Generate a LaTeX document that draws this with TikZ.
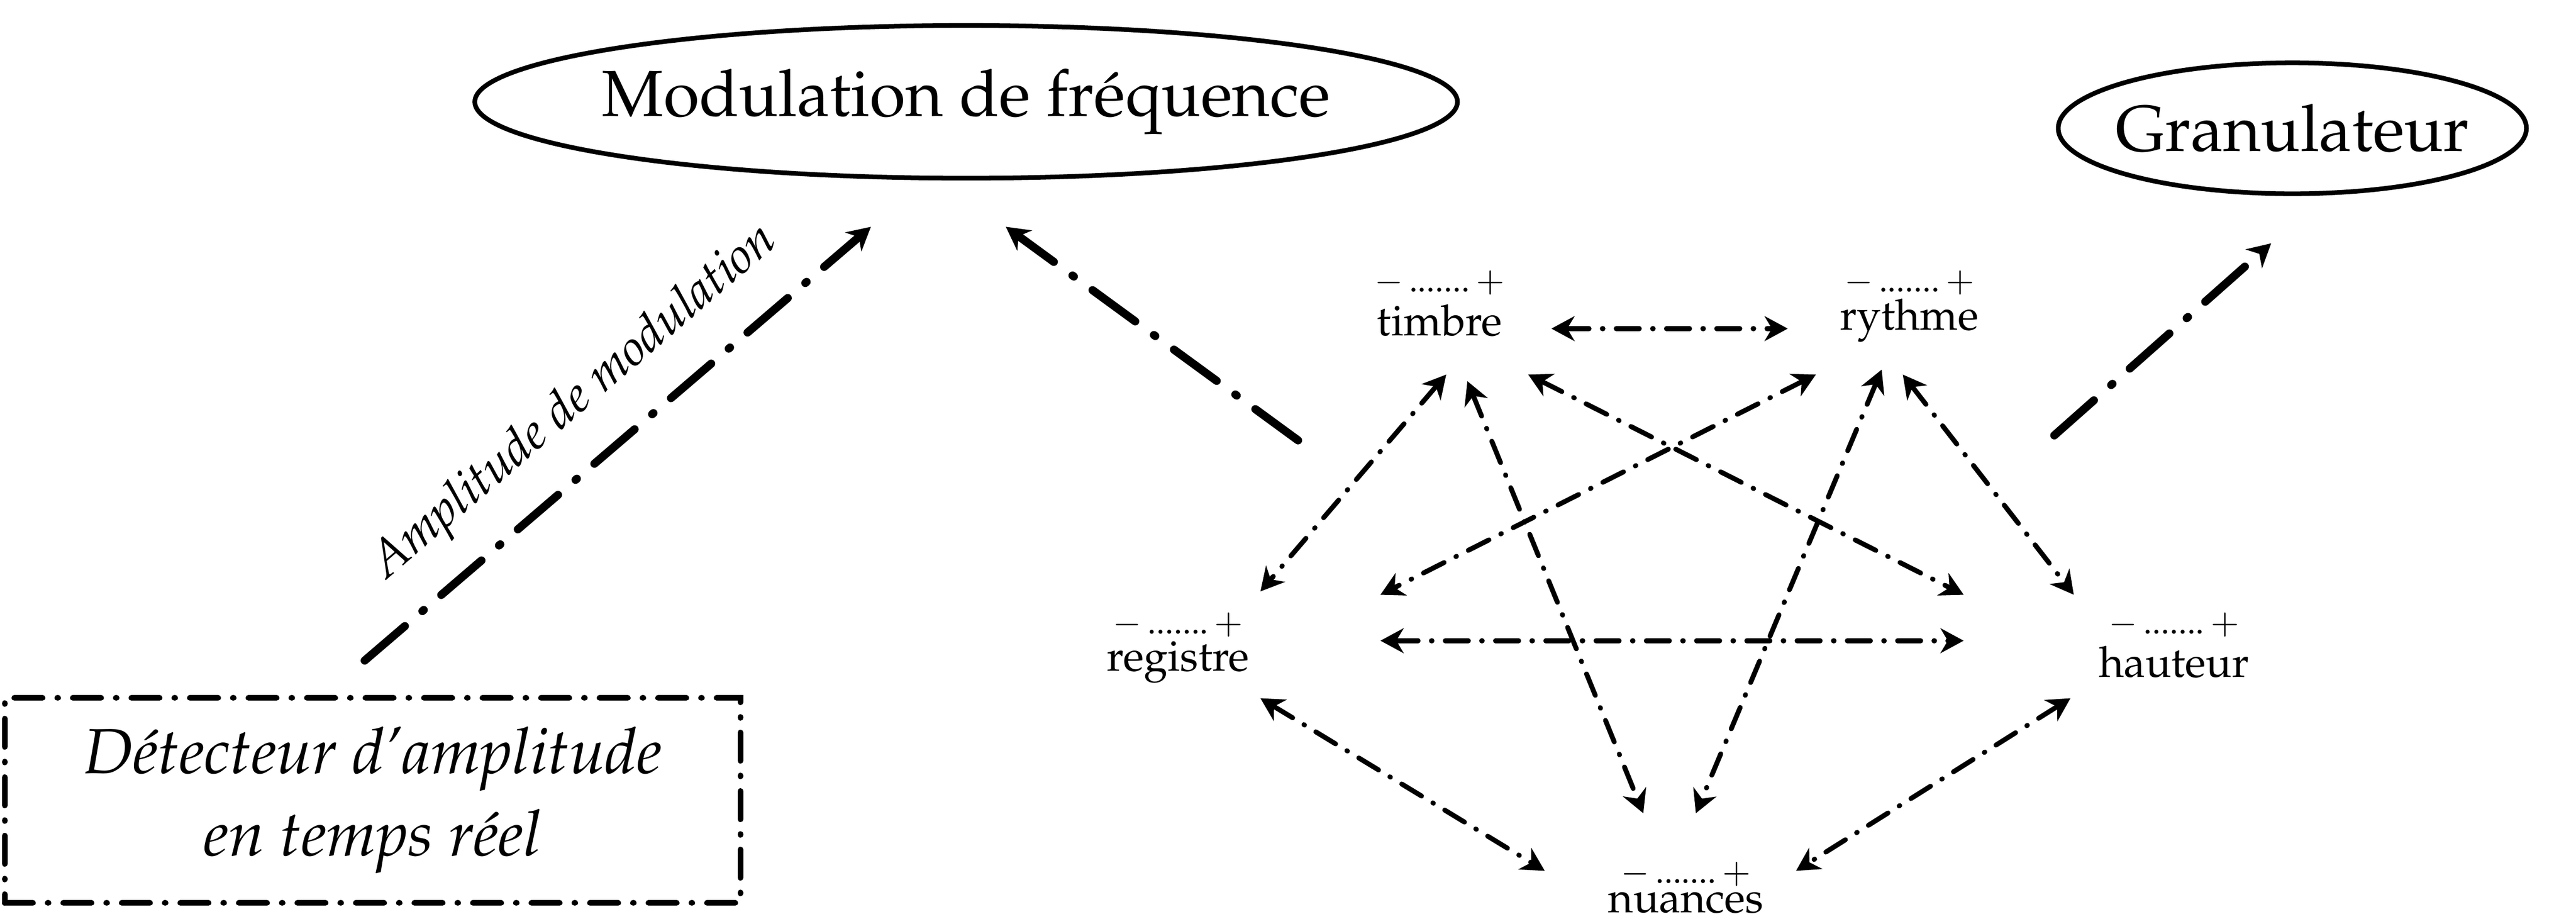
\documentclass[tikz,border=0pt]{standalone}
\usepackage[T1]{fontenc}
\usepackage{mathpazo}
\usetikzlibrary{arrows.meta,shapes.geometric}
\begin{document}
\begin{tikzpicture}[
  >={Stealth[length=0.7cm,width=0.75cm,inset=0.22cm]},
  small/.style={line width=4.2pt,line cap=round,dash pattern=on 0.7cm off 0.4cm on 0.02cm off 0.4cm,<->},
  big/.style={line width=7pt,line cap=round,dash pattern=on 1.6cm off 0.7cm on 0.05cm off 0.7cm,->},
  lbl/.style={font=\fontsize{37}{44}\selectfont,inner sep=0pt},
  scl/.style={font=\fontsize{30}{36}\selectfont,inner sep=0pt},
  ttl/.style={font=\fontsize{56}{66}\selectfont,inner sep=0pt},
  ell/.style={line width=4pt}
]
\useasboundingbox (0,0) rectangle (77.91,-27.79);
\node[ttl] (mod) at (29.22,-3.08) {Modulation de fréquence};
\draw[ell] (mod.center) ellipse [x radius=14.86cm, y radius=2.31cm];
\node[ttl] (gran) at (69.33,-3.88) {Granulateur};
\draw[ell] (gran.center) ellipse [x radius=7.08cm, y radius=1.98cm];
\node[draw,line width=5pt,line cap=round,dash pattern=on 0.85cm off 0.45cm on 0.02cm off 0.45cm,minimum width=22.25cm,minimum height=6.2cm,font=\fontsize{55}{71}\selectfont\itshape,align=center] (det) at (11.27,-24.21) {Détecteur d'amplitude\\en temps réel};

\node[lbl] (timbre) at (43.54,-9.69) {timbre};
\node[scl] (stimbre) at (43.54,-8.55) {$-$\,.......\,$+$};
\node[lbl] (rythme) at (57.75,-9.69) {rythme};
\node[scl] (srythme) at (57.75,-8.55) {$-$\,.......\,$+$};
\node[lbl] (registre) at (35.63,-20.03) {registre};
\node[scl] (sregistre) at (35.63,-18.9) {$-$\,.......\,$+$};
\node[lbl] (hauteur) at (65.75,-20.03) {hauteur};
\node[scl] (shauteur) at (65.75,-18.9) {$-$\,.......\,$+$};
\node[lbl] (nuances) at (50.99,-27.3) {nuances};
\node[scl] (snuances) at (50.99,-26.44) {$-$\,.......\,$+$};

\coordinate (a1) at (46.92,-9.94); \coordinate (a2) at (54.07,-9.94);
\coordinate (b1) at (41.75,-19.38); \coordinate (b2) at (59.39,-19.38);
\coordinate (c1) at (43.74,-11.33); \coordinate (c2) at (38.12,-17.89);
\coordinate (d1) at (44.38,-11.53); \coordinate (d2) at (49.70,-24.60);
\coordinate (e1) at (46.22,-11.33); \coordinate (e2) at (59.39,-17.99);
\coordinate (f1) at (54.92,-11.33); \coordinate (f2) at (41.75,-17.99);
\coordinate (g1) at (56.91,-11.18); \coordinate (g2) at (51.29,-24.60);
\coordinate (h1) at (57.55,-11.33); \coordinate (h2) at (62.72,-17.99);
\coordinate (i1) at (38.12,-21.12); \coordinate (i2) at (46.72,-26.34);
\coordinate (j1) at (62.62,-21.12); \coordinate (j2) at (54.32,-26.34);
\foreach \p in {a,b,c,d,e,f,g,h,i,j} \draw[small] (\p1) -- (\p2);

\coordinate (k1) at (39.26,-13.32); \coordinate (k2) at (30.42,-6.86);
\coordinate (l1) at (11.03,-19.98); \coordinate (l2) at (26.34,-6.86);
\coordinate (m1) at (62.13,-13.17); \coordinate (m2) at (68.69,-7.36);
\draw[big] (k1) -- (k2);
\draw[big] (l1) -- (l2);
\draw[big] (m1) -- (m2);
\node[font=\fontsize{43}{50}\selectfont\itshape,rotate=40.6,inner sep=0pt] (amp) at (17.4,-12.2) {Amplitude de modulation};
\end{tikzpicture}
\end{document}
